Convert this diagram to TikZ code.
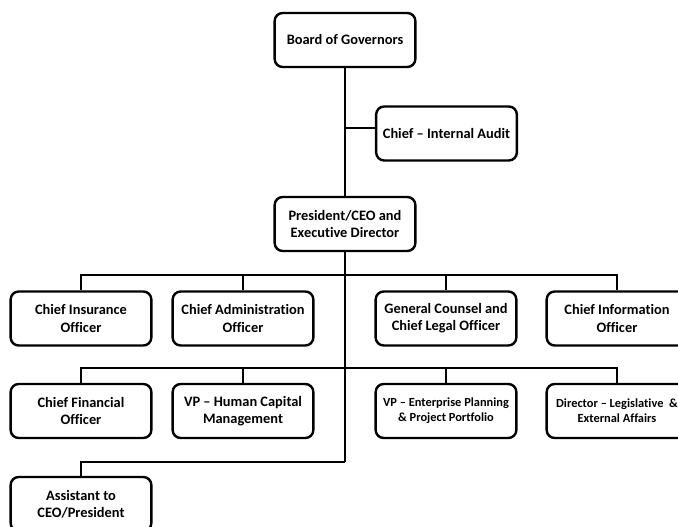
\documentclass[tikz,border=0pt]{standalone}
\usepackage{fontspec}
\setmainfont[Ligatures=NoCommon]{Carlito}
\begin{document}
\begin{tikzpicture}[x=0.75pt, y=-0.75pt,
  box/.style={draw, line width=1.8pt, rounded corners=6pt, minimum width=105.5pt, minimum height=40.5pt, align=center, inner sep=2pt, font=\fontsize{10.8}{12.8}\selectfont\bfseries},
  small/.style={font=\fontsize{9.3}{11.5}\selectfont\bfseries},
  link/.style={line width=1.8pt, line join=miter}]
    \useasboundingbox (0,0) rectangle (678,527);
    \clip (0,0) rectangle (678,527);
    % top of the chart
    \node [box] (board) at (345,40) {Board of Governors};
    \node [box] (audit) at (446.5,133.5) {Chief -- Internal Audit};
    \node [box] (pres) at (345,224) {President/CEO and\\Executive Director};
    % first row
    \node [box] (ins) at (81,318.5) {Chief Insurance\\Officer};
    \node [box] (adm) at (243,318.5) {Chief Administration\\Officer};
    \node [box] (gc) at (446,318.5) {General Counsel and\\Chief Legal Officer};
    \node [box] (info) at (617,318.5) {Chief Information\\Officer};
    % second row
    \node [box] (cfo) at (81,411) {Chief Financial\\Officer};
    \node [box] (hcm) at (243,411) {VP -- Human Capital\\Management};
    \node [box, small] (epp) at (446,411) {VP -- Enterprise Planning\\\& Project Portfolio};
    \node [box, small] (dir) at (617,411) {Director -- Legislative \ \&\\External Affairs};
    % last row
    \node [box] (asst) at (81,504) {Assistant to\\CEO/President};
    % bus lines
    \coordinate (a1) at (345,128);
    \coordinate (b1) at (345,275);
    \coordinate (b2) at (345,368);
    \coordinate (b3) at (345,462);
    \draw[link] (board) -- (pres);
    \draw[link] (a1) -- (a1 -| audit.west);
    \draw[link] (pres) -- (b3);
    \draw[link] (ins.north) -- (ins |- b1) -- (info |- b1) -- (info.north);
    \draw[link] (cfo.north) -- (cfo |- b2) -- (dir |- b2) -- (dir.north);
    \draw[link] (asst.north) -- (asst |- b3) -- (b3);
    \foreach \n in {adm,gc} \draw[link] (\n |- b1) -- (\n.north);
    \foreach \n in {hcm,epp} \draw[link] (\n |- b2) -- (\n.north);
\end{tikzpicture}
\end{document}
